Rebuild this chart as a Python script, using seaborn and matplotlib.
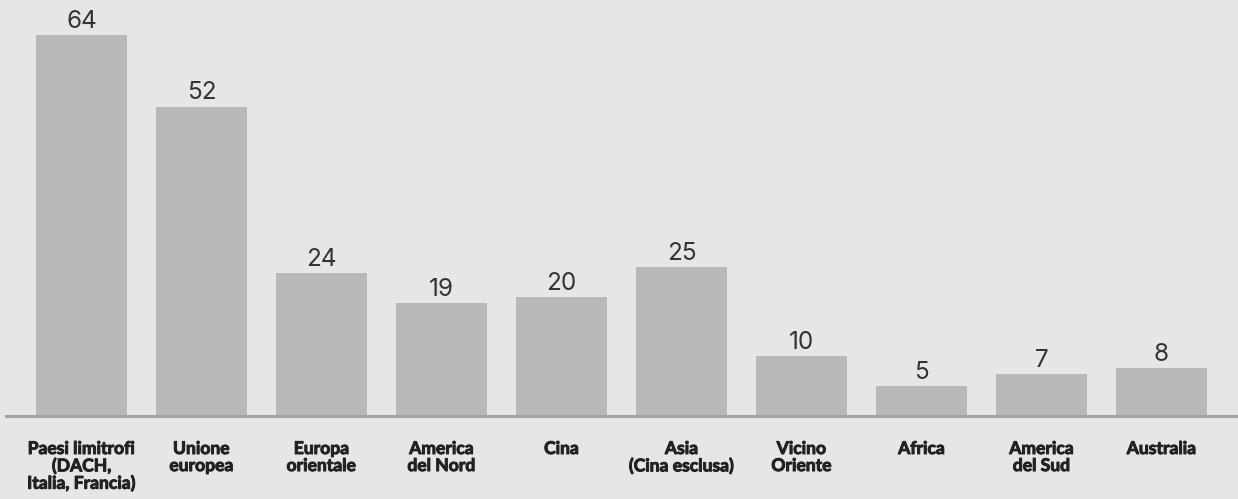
import matplotlib
matplotlib.use("Agg")
import matplotlib.pyplot as plt
import matplotlib.patheffects as pe
import seaborn as sns
import pandas as pd

regions = [
    "Paesi limitrofi\n(DACH,\nItalia, Francia)",
    "Unione\neuropea",
    "Europa\norientale",
    "America\ndel Nord",
    "Cina",
    "Asia\n(Cina esclusa)",
    "Vicino\nOriente",
    "Africa",
    "America\ndel Sud",
    "Australia",
]
values = [64, 52, 24, 19, 20, 25, 10, 5, 7, 8]

BG = "#e6e6e6"
BAR = "#b8b8b8"
AXIS = "#a3a3a3"
LABEL = "#222222"

sns.set_theme(style="white")
plt.rcParams["font.family"] = ["Inter", "DejaVu Sans"]

df = pd.DataFrame({"region": regions, "value": values})

fig = plt.figure(figsize=(12.38, 4.99), dpi=100, facecolor=BG)
ax = fig.add_axes([6 / 1238, 83 / 499, 1 - 6 / 1238, 416 / 499])
ax.set_facecolor(BG)

sns.barplot(data=df, x="region", y="value", color=BAR, width=0.76,
            saturation=1, ax=ax, edgecolor="none")

ax.bar_label(ax.containers[0], labels=[str(v) for v in values],
             padding=1.5, fontsize=17.5, color="#333333")

ax.set_xlim(-0.629, 9.637)
ax.set_ylim(0, 69.9)
ax.set_xlabel("")
ax.set_ylabel("")
ax.set_yticks([])
for side in ("top", "right", "left"):
    ax.spines[side].set_visible(False)
ax.spines["bottom"].set_color(AXIS)
ax.spines["bottom"].set_linewidth(2.2)

# heavy category labels: bold face thickened with a thin outline
ax.tick_params(axis="x", length=0, pad=18)
for lbl in ax.get_xticklabels():
    lbl.set_family(["Lato", "DejaVu Sans"])
    lbl.set_fontweight("bold")
    lbl.set_fontsize(12.6)
    lbl.set_color(LABEL)
    lbl.set_linespacing(1.08)
    lbl.set_verticalalignment("top")
    lbl.set_path_effects([pe.withStroke(linewidth=0.7, foreground=LABEL)])

fig.savefig("out.png", dpi=100, facecolor=BG)
